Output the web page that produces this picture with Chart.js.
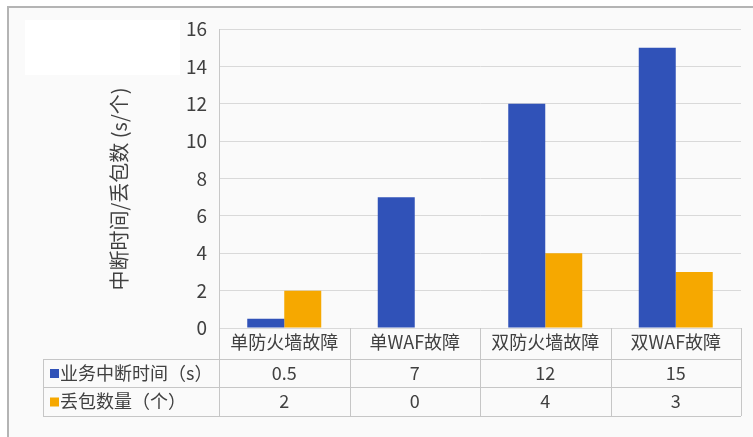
<!DOCTYPE html>
<html>
<head>
<meta charset="utf-8">
<script src="https://cdn.jsdelivr.net/npm/chart.js@4.4.1/dist/chart.umd.min.js"></script>
<style>
  html, body { margin: 0; padding: 0; background: #ffffff; }
  #wrap { width: 753px; height: 437px; }
</style>
</head>
<body>
<div id="wrap"><canvas id="c" width="753" height="437"></canvas></div>
<script>
const categories = ['单防火墙故障', '单WAF故障', '双防火墙故障', '双WAF故障'];
const interruptTime = [0.5, 7, 12, 15];
const packetLoss = [2, 0, 4, 3];
const seriesNames = ['业务中断时间（s）', '丢包数量（个）'];
const yMin = 0, yMax = 16, yStep = 2;
const yTitle = '中断时间/丢包数 (s/个)';

const FONT = '"Noto Sans CJK SC", "Noto Sans", sans-serif';
const TEXT = '#404040';
const BLUE = '#3052B8';
const ORANGE = '#F6A800';

const decor = {
  id: 'decor',
  beforeDraw(chart) {
    const ctx = chart.ctx;
    ctx.save();
    ctx.fillStyle = '#ffffff';
    ctx.fillRect(0, 0, chart.width, chart.height);
    ctx.fillStyle = '#fafafa';
    ctx.fillRect(8, 7, chart.width - 8, chart.height - 7);
    ctx.fillStyle = '#ffffff';
    ctx.fillRect(25, 20, 155, 55);
    ctx.strokeStyle = '#b4b4b4';
    ctx.lineWidth = 2;
    ctx.beginPath();
    ctx.moveTo(8, chart.height);
    ctx.lineTo(8, 7);
    ctx.lineTo(chart.width, 7);
    ctx.stroke();
    ctx.restore();
  },
  afterDraw(chart) {
    const ctx = chart.ctx;
    const area = chart.chartArea;
    const xs = chart.scales.x;
    const colW = (area.right - area.left) / categories.length;
    const top = area.bottom;
    const r1 = top + 31, r2 = r1 + 28, r3 = r2 + 29;
    const legLeft = 43;
    ctx.save();
    ctx.strokeStyle = '#c6c6c6';
    ctx.lineWidth = 1;
    ctx.beginPath();
    [r1, r2, r3].forEach(y => { ctx.moveTo(legLeft, y + 0.5); ctx.lineTo(area.right, y + 0.5); });
    ctx.moveTo(legLeft + 0.5, r1); ctx.lineTo(legLeft + 0.5, r3);
    for (let i = 0; i <= categories.length; i++) {
      const x = Math.round(area.left + i * colW) + 0.5;
      ctx.moveTo(x, top); ctx.lineTo(x, r3);
    }
    ctx.stroke();

    ctx.font = '18px ' + FONT;
    ctx.fillStyle = TEXT;
    ctx.textBaseline = 'middle';
    const rows = [
      { y: (r1 + r2) / 2, data: interruptTime, color: BLUE, name: seriesNames[0] },
      { y: (r2 + r3) / 2, data: packetLoss, color: ORANGE, name: seriesNames[1] }
    ];
    rows.forEach(r => {
      ctx.fillStyle = r.color;
      ctx.fillRect(50, r.y - 4, 9, 9);
      ctx.fillStyle = TEXT;
      ctx.textAlign = 'left';
      ctx.fillText(r.name, 60, r.y);
      ctx.textAlign = 'center';
      r.data.forEach((v, i) => {
        ctx.fillText(String(v), xs.getPixelForValue(i), r.y);
      });
    });

    // y axis title
    ctx.translate(119, 189);
    ctx.rotate(-Math.PI / 2);
    ctx.font = '20px ' + FONT;
    ctx.textAlign = 'center';
    ctx.fillStyle = TEXT;
    ctx.fillText(yTitle, 0, 0);
    ctx.restore();
  }
};

new Chart(document.getElementById('c'), {
  type: 'bar',
  data: {
    labels: categories,
    datasets: [
      { label: seriesNames[0], data: interruptTime, backgroundColor: BLUE, categoryPercentage: 0.567, barPercentage: 1 },
      { label: seriesNames[1], data: packetLoss, backgroundColor: ORANGE, categoryPercentage: 0.567, barPercentage: 1 }
    ]
  },
  options: {
    responsive: false,
    animation: false,
    devicePixelRatio: 1,
    layout: { padding: { left: 8, top: 29, right: 12, bottom: 83 } },
    plugins: { legend: { display: false }, tooltip: { enabled: false } },
    scales: {
      x: {
        afterFit(s) { s.height = 26; },
        grid: { display: false, drawTicks: false },
        border: { display: false },
        ticks: { color: TEXT, font: { family: FONT, size: 18 }, padding: 3, maxRotation: 0, autoSkip: false }
      },
      y: {
        min: yMin, max: yMax,
        afterFit(s) { s.width = 211; },
        grid: { color: '#d9d9d9', drawTicks: false },
        border: { display: true, color: '#c8c8c8' },
        ticks: { stepSize: yStep, color: TEXT, font: { family: FONT, size: 19 }, padding: 12 }
      }
    }
  },
  plugins: [decor]
});
</script>
</body>
</html>
